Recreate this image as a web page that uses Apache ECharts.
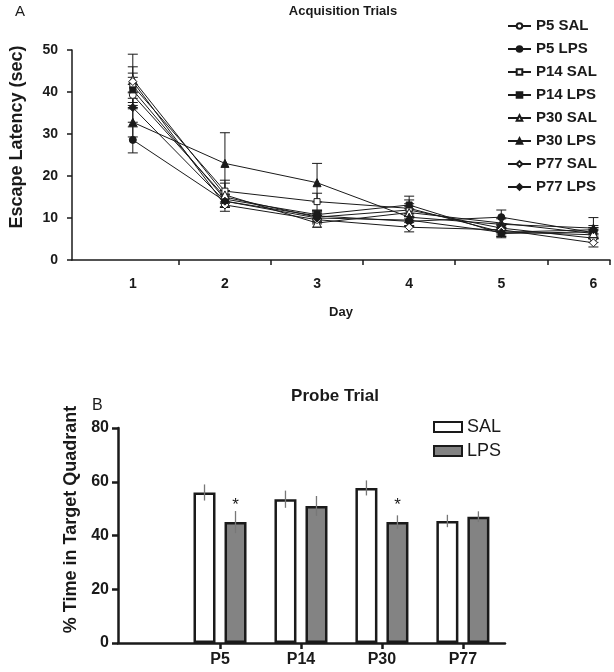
<!DOCTYPE html>
<html><head><meta charset="utf-8">
<script src="https://cdn.jsdelivr.net/npm/echarts@6/dist/echarts.min.js"></script>
<style>html,body{margin:0;padding:0;background:#fff}#c{width:614px;height:672px}</style>
</head><body><div id="c"></div>
<script>
// ---------- Panel A data ----------
const days = [1, 2, 3, 4, 5, 6];
const groupNames = ['P5 SAL', 'P5 LPS', 'P14 SAL', 'P14 LPS', 'P30 SAL', 'P30 LPS', 'P77 SAL', 'P77 LPS'];
const p5Sal  = [39.3, 15.0, 10.2, 11.9, 7.6, 5.2];
const p5Lps  = [28.6, 14.0, 10.5, 9.2, 10.2, 6.5];
const p14Sal = [41.5, 16.4, 13.9, 12.3, 6.7, 6.0];
const p14Lps = [40.5, 14.5, 10.8, 13.1, 6.3, 6.7];
const p30Sal = [43.0, 15.5, 8.8, 11.3, 8.8, 6.3];
const p30Lps = [32.8, 23.0, 18.4, 10.2, 8.5, 7.6];
const p77Sal = [42.5, 13.1, 9.6, 7.8, 7.2, 4.1];
const p77Lps = [36.3, 14.0, 10.0, 9.5, 6.6, 7.2];
const p5SalErr  = [2.5, 1.5, 1.0, 1.5, 1.0, 1.0];
const p5LpsErr  = [3.1, 1.5, 1.0, 1.2, 1.7, 1.2];
const p14SalErr = [3.0, 2.6, 2.0, 2.0, 1.0, 1.0];
const p14LpsErr = [3.0, 2.0, 1.0, 2.1, 1.0, 1.0];
const p30SalErr = [3.0, 2.8, 1.0, 1.5, 1.0, 1.0];
const p30LpsErr = [3.5, 7.3, 4.6, 2.0, 1.5, 2.5];
const p77SalErr = [6.5, 1.5, 1.0, 1.1, 1.0, 1.0];
const p77LpsErr = [3.5, 1.5, 1.0, 1.5, 1.0, 1.0];
const dayTicks = [1.5, 2.5, 3.5, 4.5, 5.5, 6.18];
const latencyTicks = [0, 10, 20, 30, 40, 50];

// ---------- Panel B data ----------
const ages = ['P5', 'P14', 'P30', 'P77'];
const salProbe = [56.0, 53.5, 57.7, 45.4];
const lpsProbe = [45.0, 51.0, 45.0, 47.0];
const salProbeErr = [3.0, 3.2, 2.8, 2.3];
const lpsProbeErr = [4.1, 3.7, 2.5, 2.0];
const lpsSignificant = [true, false, true, false];
const probeTicks = [0, 20, 40, 60, 80];

const FONT = '"Liberation Sans", Arial, Helvetica, sans-serif';
const INK = '#1a1a1a';

const lineValues = [p5Sal, p5Lps, p14Sal, p14Lps, p30Sal, p30Lps, p77Sal, p77Lps];
const lineErrors = [p5SalErr, p5LpsErr, p14SalErr, p14LpsErr, p30SalErr, p30LpsErr, p77SalErr, p77LpsErr];
const symbols = ['circle', 'circle', 'rect', 'rect', 'triangle', 'triangle', 'diamond', 'diamond'];
const symbolSizes = [7, 7, 6, 6, 8, 8, 8, 8];
const filled = [false, true, false, true, false, true, false, true];

const series = [];
groupNames.forEach((name, s) => {
  series.push({
    type: 'custom', name: name + ' err', xAxisIndex: 0, yAxisIndex: 0, z: 1,
    data: lineValues[s].map((v, i) => [days[i], v - lineErrors[s][i], v + lineErrors[s][i]]),
    renderItem: (params, api) => {
      const lo = api.coord([api.value(0), api.value(1)]);
      const hi = api.coord([api.value(0), api.value(2)]);
      const cap = 5;
      const st = { stroke: INK, lineWidth: 1 };
      return { type: 'group', children: [
        { type: 'line', shape: { x1: hi[0], y1: hi[1], x2: lo[0], y2: lo[1] }, style: st },
        { type: 'line', shape: { x1: hi[0] - cap, y1: hi[1], x2: hi[0] + cap, y2: hi[1] }, style: st },
        { type: 'line', shape: { x1: lo[0] - cap, y1: lo[1], x2: lo[0] + cap, y2: lo[1] }, style: st }
      ]};
    }
  });
});
groupNames.forEach((name, s) => {
  series.push({
    type: 'line', name: name, xAxisIndex: 0, yAxisIndex: 0, z: 3,
    data: lineValues[s].map((v, i) => [days[i], v]),
    symbol: symbols[s], symbolSize: symbolSizes[s], showAllSymbol: true,
    lineStyle: { color: INK, width: 1 },
    itemStyle: { color: filled[s] ? INK : '#ffffff', borderColor: INK, borderWidth: 1 },
    emphasis: { disabled: true }
  });
});
series.push({
  type: 'bar', name: 'SAL', xAxisIndex: 1, yAxisIndex: 1,
  data: salProbe.map((v, i) => [i, v]),
  barWidth: 22, barGap: '41%',
  itemStyle: { color: '#ffffff', borderColor: INK, borderWidth: 2.5 }
});
series.push({
  type: 'bar', name: 'LPS', xAxisIndex: 1, yAxisIndex: 1,
  data: lpsProbe.map((v, i) => [i, v]),
  barWidth: 22, barGap: '41%',
  itemStyle: { color: '#838383', borderColor: INK, borderWidth: 2.5 },
  label: { show: true, position: 'top', distance: 8, fontSize: 17, color: INK, fontFamily: FONT,
    formatter: p => lpsSignificant[p.dataIndex] ? '*' : '' }
});
function probeErr(vals, errs, shift) {
  return {
    type: 'custom', name: 'probe err ' + shift, xAxisIndex: 1, yAxisIndex: 1, z: 5,
    data: vals.map((v, i) => [i, v - errs[i], v + errs[i]]),
    renderItem: (params, api) => {
      const lo = api.coord([api.value(0), api.value(1)]);
      const hi = api.coord([api.value(0), api.value(2)]);
      return { type: 'line', shape: { x1: hi[0] + shift, y1: hi[1], x2: lo[0] + shift, y2: lo[1] },
        style: { stroke: '#777', lineWidth: 1.3 } };
    }
  };
}
series.push(probeErr(salProbe, salProbeErr, -15.5));
series.push(probeErr(lpsProbe, lpsProbeErr, 15.5));

const chart = echarts.init(document.getElementById('c'), null, { renderer: 'canvas' });
chart.setOption({
  backgroundColor: '#ffffff',
  animation: false,
  textStyle: { fontFamily: FONT, color: INK },
  graphic: [
    { type: 'text', left: 15, top: 4, style: { text: 'A', font: '15px ' + FONT, fill: INK } },
    { type: 'text', x: 343, y: 5, style: { text: 'Acquisition Trials', font: 'bold 13px ' + FONT, fill: INK, textAlign: 'center' } },
    { type: 'text', left: 92, top: 398, style: { text: 'B', font: '16px ' + FONT, fill: INK } },
    { type: 'text', x: 335, y: 388, style: { text: 'Probe Trial', font: 'bold 17px ' + FONT, fill: INK, textAlign: 'center' } }
  ],
  legend: [
    { data: groupNames, orient: 'vertical', left: 502, top: 13, itemWidth: 23, itemHeight: 7, itemGap: 7,
      textStyle: { fontFamily: FONT, fontWeight: 'bold', fontSize: 15, lineHeight: 16, color: INK }, selectedMode: false },
    { data: ['SAL', 'LPS'], orient: 'vertical', left: 428, top: 413, itemWidth: 28, itemHeight: 10, itemGap: 6,
      icon: 'rect', textStyle: { fontFamily: FONT, fontSize: 18, lineHeight: 18, color: INK }, selectedMode: false }
  ],
  grid: [
    { left: 60, right: 4, top: 50, bottom: 412 },
    { left: 118, right: 109, top: 428, bottom: 29 }
  ],
  xAxis: [
    { type: 'value', gridIndex: 0, min: 0.34, max: 6.18,
      name: 'Day', nameLocation: 'middle', nameGap: 46,
      nameTextStyle: { fontWeight: 'bold', fontSize: 13, color: INK, fontFamily: FONT },
      axisLine: { show: true, onZero: false, lineStyle: { color: INK, width: 1.5 } },
      axisTick: { show: true, length: 5, customValues: dayTicks, lineStyle: { color: INK, width: 1.5 } },
      axisLabel: { fontWeight: 'bold', fontSize: 14, color: INK, margin: 17, fontFamily: FONT, customValues: days },
      splitLine: { show: false } },
    { type: 'value', gridIndex: 1, min: -1.26, max: 3.52,
      axisLine: { show: true, onZero: false, lineStyle: { color: INK, width: 2.5 } },
      axisTick: { show: true, length: 6, customValues: [0, 1, 2, 3], lineStyle: { color: INK, width: 2.5 } },
      axisLabel: { fontWeight: 'bold', fontSize: 16, color: INK, margin: 9, fontFamily: FONT,
        customValues: [0, 1, 2, 3], formatter: v => ages[Math.round(v)] },
      splitLine: { show: false } }
  ],
  yAxis: [
    { type: 'value', gridIndex: 0, min: latencyTicks[0], max: latencyTicks[latencyTicks.length - 1], interval: 10,
      name: 'Escape Latency (sec)', nameLocation: 'middle', nameGap: 46,
      nameTextStyle: { fontWeight: 'bold', fontSize: 18, color: INK, fontFamily: FONT, padding: [0, 0, 0, 36] },
      axisLine: { show: true, onZero: false, lineStyle: { color: INK, width: 1.5 } },
      axisTick: { show: true, length: 5, lineStyle: { color: INK, width: 1.5 } },
      axisLabel: { fontWeight: 'bold', fontSize: 14, color: INK, margin: 14, fontFamily: FONT },
      splitLine: { show: false } },
    { type: 'value', gridIndex: 1, min: probeTicks[0], max: probeTicks[probeTicks.length - 1], interval: 20,
      name: '% Time in Target Quadrant', nameLocation: 'middle', nameGap: 36,
      nameTextStyle: { fontWeight: 'bold', fontSize: 18, color: INK, fontFamily: FONT, padding: [0, 0, 0, 32] },
      axisLine: { show: true, onZero: false, lineStyle: { color: INK, width: 2.5 } },
      axisTick: { show: true, length: 6, lineStyle: { color: INK, width: 2.5 } },
      axisLabel: { fontWeight: 'bold', fontSize: 16, color: INK, margin: 9, fontFamily: FONT },
      splitLine: { show: false } }
  ],
  series: series
});
</script>
</body></html>
